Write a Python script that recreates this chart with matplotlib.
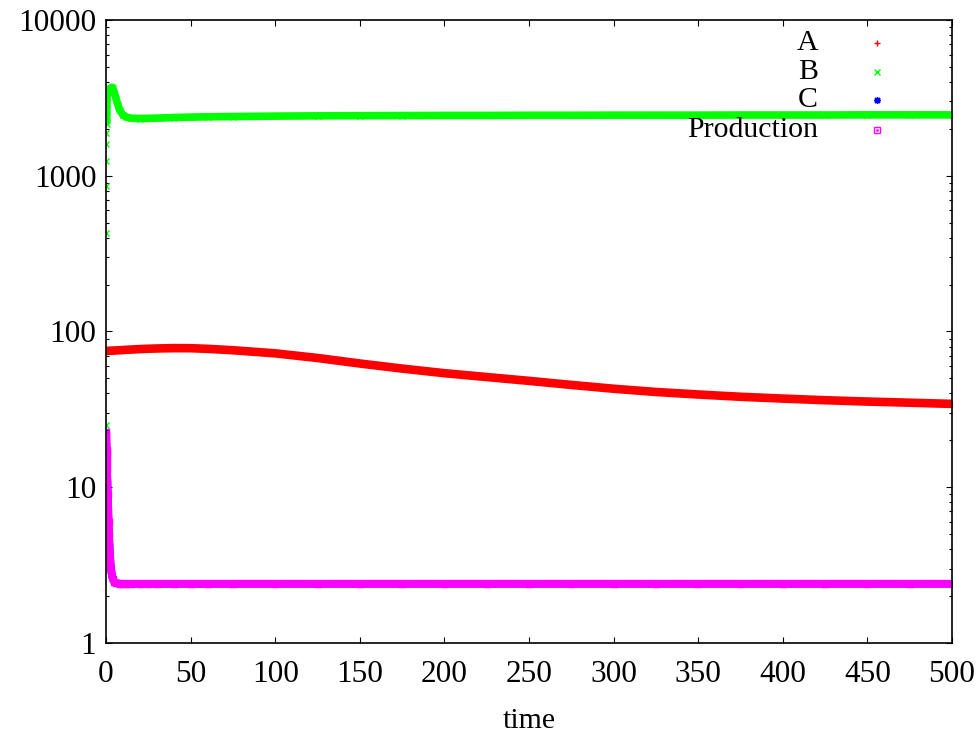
import matplotlib
matplotlib.use("Agg")
import matplotlib.pyplot as plt

plt.rcParams['font.family'] = ['Liberation Serif', 'DejaVu Serif']

# sample times
time = [0, 0.05, 0.1, 0.15, 0.2, 0.25, 0.3, 0.35, 0.4,
        0.5, 0.6, 0.8, 1.0, 1.25, 1.5, 1.75, 2.0,
        2.5, 3.0, 3.5, 4, 5, 6, 7, 8, 10, 12, 15, 20,
        25, 30, 40, 50, 60, 75, 100, 125, 150, 175, 200, 225,
        250, 275, 300, 325, 350, 375, 400, 425, 450, 475, 500]

conc_a = [75.0, 75.0, 75.0, 75.0, 75.0, 75.0, 75.0, 75.0, 75.0,
          75.0, 75.0, 75.1, 75.1, 75.1, 75.2, 75.2, 75.2,
          75.3, 75.3, 75.4, 75.4, 75.5, 75.6, 75.7, 75.8, 76.0, 76.3, 76.6, 77.1,
          77.5, 77.8, 78.2, 78.1, 77.4, 75.8, 72.4, 67.6, 62.3, 57.8, 54.0, 51.0,
          48.2, 45.4, 42.9, 40.9, 39.4, 38.1, 37.1, 36.2, 35.5, 34.9, 34.3]

conc_b = [25, 429, 860, 1244, 1600, 1880, 2140, 2383, 2632,
          2930, 3200, 3450, 3600, 3600, 3550, 3500, 3480,
          3550, 3650, 3700, 3650, 3400, 3100, 2850, 2650, 2450, 2380, 2340, 2330,
          2335, 2345, 2365, 2380, 2390, 2400, 2415, 2425, 2430, 2435, 2440, 2440,
          2445, 2445, 2450, 2450, 2450, 2455, 2455, 2455, 2460, 2460, 2460]

conc_c = [22.5, 22.0, 21.0, 20.0, 19.0, 18.2, 17.3, 16.5, 15.7,
          14.3, 13.0, 10.8, 9.0, 7.3, 6.0, 5.0, 4.3,
          3.4, 2.95, 2.7, 2.57, 2.46, 2.42, 2.41, 2.40, 2.40, 2.40, 2.40, 2.40,
          2.40, 2.40, 2.40, 2.40, 2.40, 2.40, 2.40, 2.40, 2.40, 2.40, 2.40, 2.40,
          2.40, 2.40, 2.40, 2.40, 2.40, 2.40, 2.40, 2.40, 2.40, 2.40, 2.40]

production = [22.5, 22.0, 21.0, 20.0, 19.0, 18.2, 17.3, 16.5, 15.7,
              14.3, 13.0, 10.8, 9.0, 7.3, 6.0, 5.0, 4.3,
              3.4, 2.95, 2.7, 2.57, 2.46, 2.42, 2.41, 2.40, 2.40, 2.40, 2.40, 2.40,
              2.40, 2.40, 2.40, 2.40, 2.40, 2.40, 2.40, 2.40, 2.40, 2.40, 2.40, 2.40,
              2.40, 2.40, 2.40, 2.40, 2.40, 2.40, 2.40, 2.40, 2.40, 2.40, 2.40]

labels = ['A', 'B', 'C', 'Production']
colors = ['#ff0000', '#00ff00', '#0000ff', '#ff00ff']
markers = ['+', 'x', (8, 2, 0), 's']
line_start = [0, 6, 0, 0]   # B's first points are scattered, not a band
band_width = [6.2, 5.5, 5.5, 5.6]

y_ticks = [1, 10, 100, 1000, 10000]
y_tick_labels = ['1', '10', '100', '1000', '10000']
x_ticks = [0, 50, 100, 150, 200, 250, 300, 350, 400, 450, 500]

fig = plt.figure(figsize=(9.8, 7.33), dpi=100)
ax = fig.add_axes([0.1082, 0.1228, 0.8632, 0.8499])

series = [conc_a, conc_b, conc_c, production]
for vals, lab, col, mk, st, lw in zip(series, labels, colors, markers, line_start, band_width):
    ax.plot(time[st:], vals[st:], color=col, lw=lw, solid_capstyle='butt', solid_joinstyle='round')
    ax.plot(time, vals, ls='none', marker=mk, color=col, ms=4.5, mew=1.0,
            mfc='none' if mk == 's' else col)

ax.set_yscale('log')
ax.set_xlim(0, 500)
ax.set_ylim(1, 10000)
ax.set_yticks(y_ticks, y_tick_labels)
ax.set_xticks(x_ticks)
ax.tick_params(axis='both', which='major', direction='in', length=4.3, width=0.8,
               labelsize=22.5, top=True, right=True)
ax.tick_params(axis='y', which='minor', direction='in', length=2.2, width=0.8, right=True)
ax.tick_params(axis='y', which='major', pad=7)
ax.tick_params(axis='x', which='major', pad=12)
ax.set_xlabel('time', fontsize=21.5, labelpad=14)
for sp in ax.spines.values():
    sp.set_linewidth(1.2)

# gnuplot-style key: right-justified text, sample to the right
key_rows = [0.963, 0.9165, 0.8716, 0.8234]
for lab, col, mk, yk in zip(labels, colors, markers, key_rows):
    ax.text(0.8416, yk, lab, transform=ax.transAxes, ha='right', va='center', fontsize=21.5)
    ax.plot([0.911], [yk], transform=ax.transAxes, ls='none', marker=mk, color=col,
            ms=5, mew=1.0, mfc='none' if mk == 's' else col, clip_on=False)
    if mk == 's':
        ax.plot([0.911], [yk], transform=ax.transAxes, ls='none', marker='.', color=col,
                ms=2, clip_on=False)

fig.savefig('out.png', dpi=100)
